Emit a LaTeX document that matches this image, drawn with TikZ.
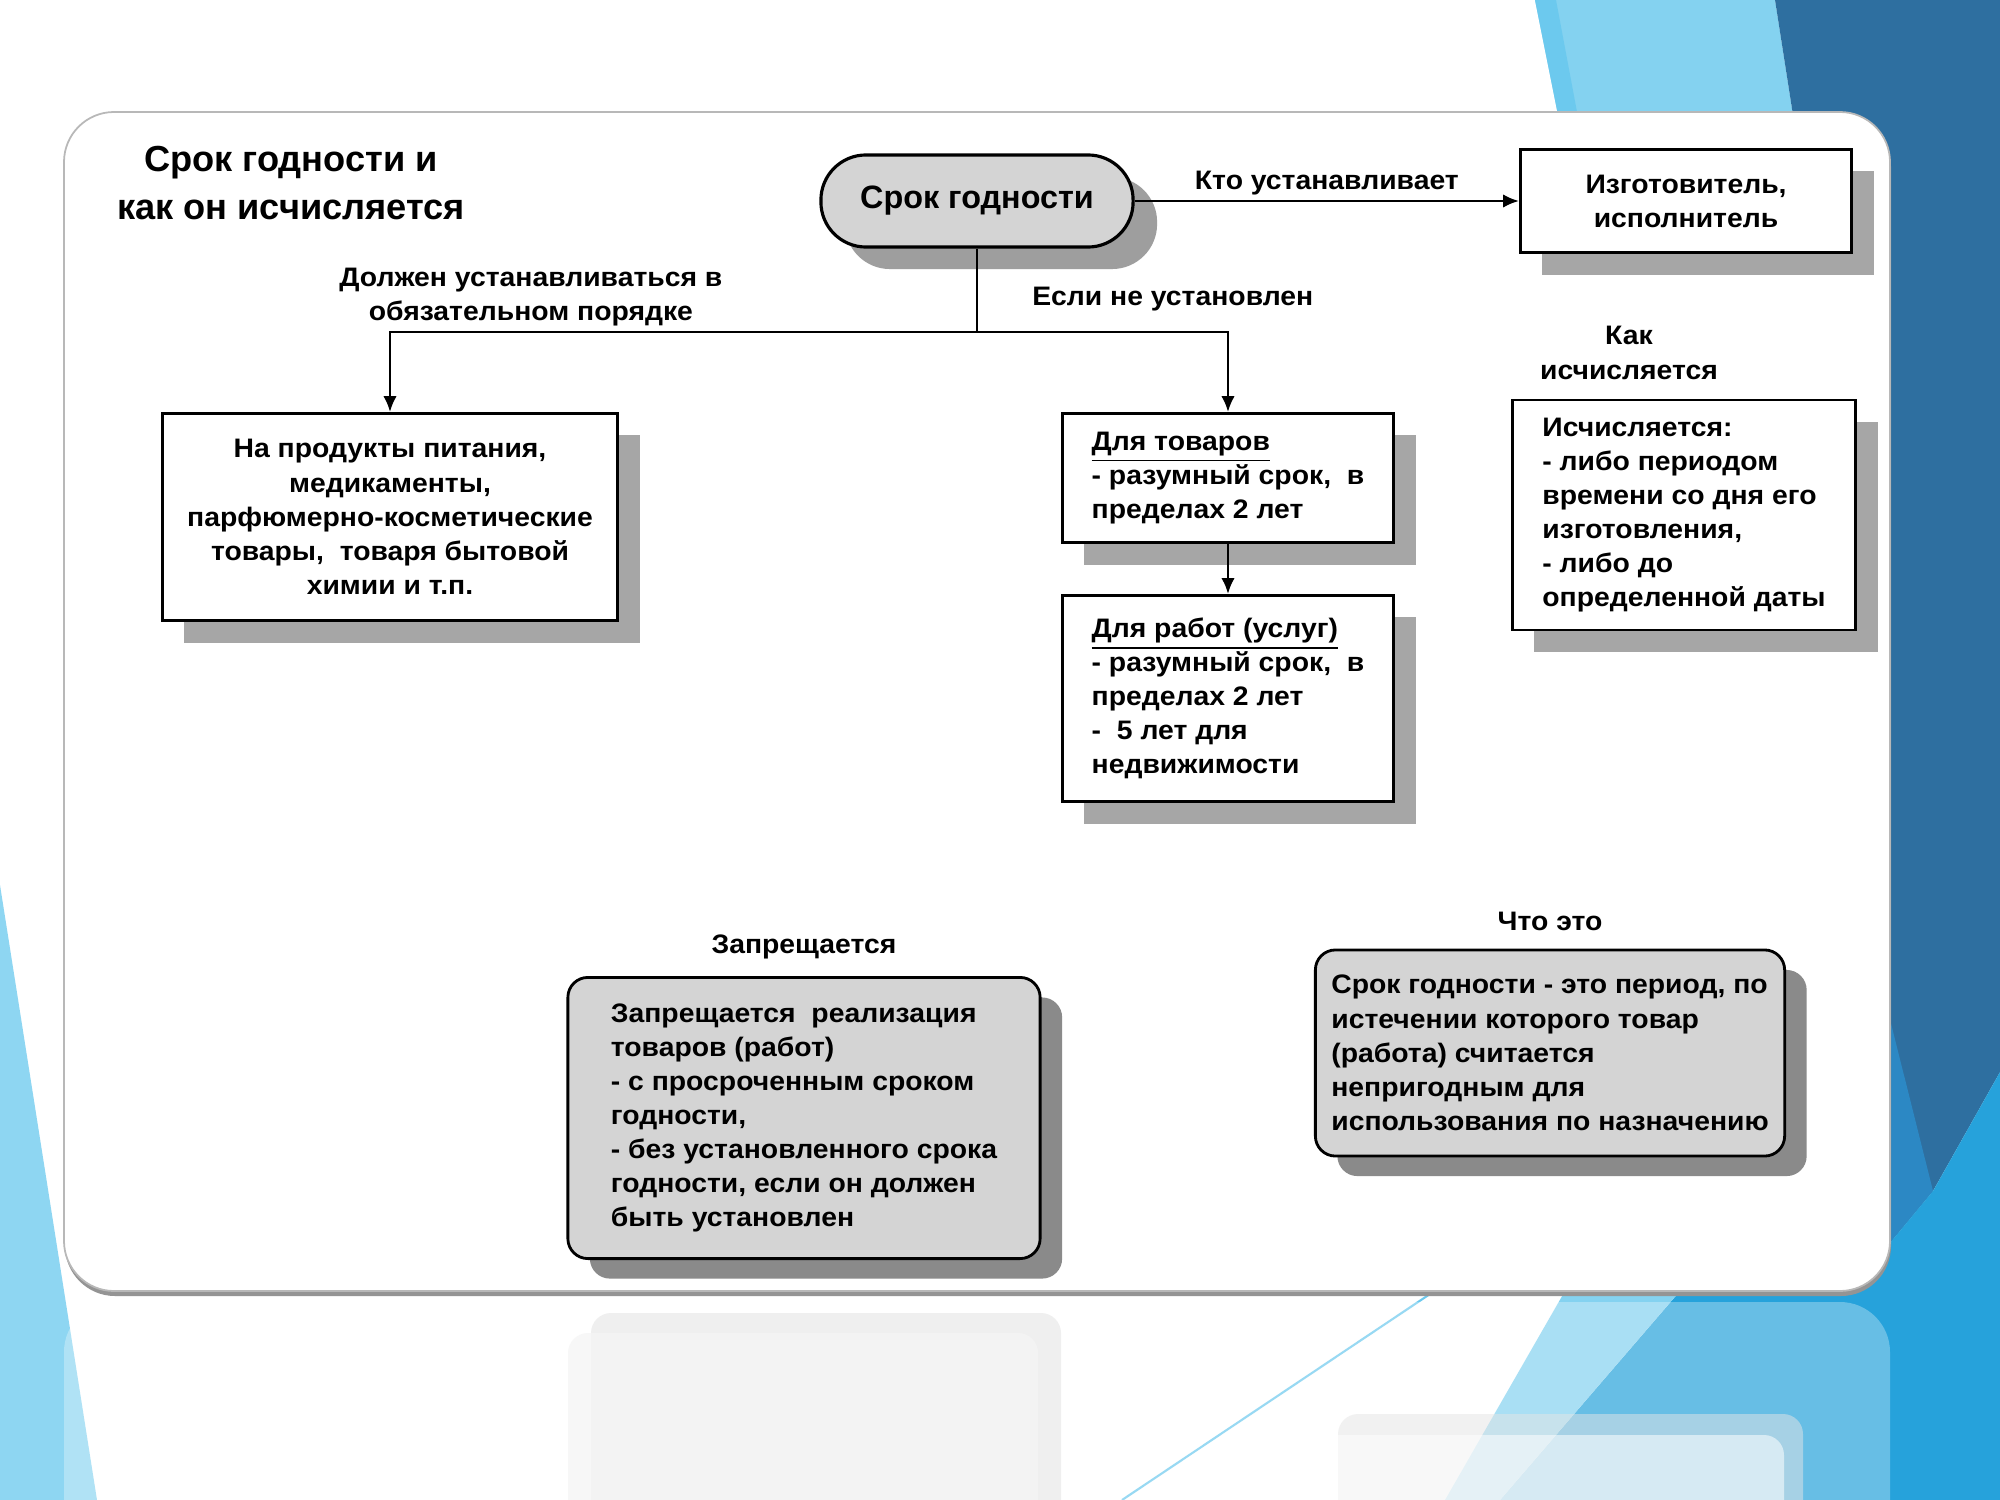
\documentclass[tikz,border=0pt]{standalone}
\usepackage{fontspec}
\setmainfont{Liberation Sans}
\newfontfamily\wideface{Liberation Sans}[FakeStretch=1.06]
\usetikzlibrary{arrows.meta,shadows,positioning}

\definecolor{skyblue}{HTML}{84D2F0}
\definecolor{skystripe}{HTML}{6CC9EE}
\definecolor{deepblue}{HTML}{2E6FA0}
\definecolor{midblue}{HTML}{2C88C4}
\definecolor{brightblue}{HTML}{26A2DB}
\definecolor{paleblue}{HTML}{8ED6F2}
\definecolor{boxgray}{HTML}{D4D4D4}

\newcommand{\boxfont}{\wideface\fontsize{7.6}{9.7}\selectfont\bfseries}
\newcommand{\titlefont}{\fontsize{10.3}{13.6}\selectfont\bfseries}
\newcommand{\ovalfont}{\fontsize{9.2}{11}\selectfont\bfseries}

\tikzset{
  whitebox/.style={draw,line width=0.8pt,fill=white,font=\boxfont,inner sep=0pt,
    drop shadow={shadow xshift=0.22cm,shadow yshift=-0.22cm,fill=black!35,opacity=1}},
  graybox/.style={draw,line width=0.8pt,fill=boxgray,rounded corners=0.2cm,font=\boxfont,inner sep=0pt,
    drop shadow={shadow xshift=0.22cm,shadow yshift=-0.2cm,fill=black!46,opacity=1}},
  oval/.style={draw,line width=0.9pt,fill=boxgray,rounded corners=0.45cm,font=\ovalfont,
    minimum width=3.12cm,minimum height=0.92cm,
    drop shadow={shadow xshift=0.24cm,shadow yshift=-0.22cm,fill=black!38,opacity=1}},
  caption/.style={font=\boxfont,align=center,inner sep=0pt},
}

\begin{document}
\begin{tikzpicture}[x=0.01cm,y=-0.01cm,->,>={Latex[length=4.5pt,width=3.8pt]},line width=0.7pt]
  \useasboundingbox (0,0) rectangle (2000,1500);
  % background of the slide
  \fill[white] (0,0) rectangle (2000,1500);
  \fill[skyblue] (1535,0) -- (1775,0) -- (1800,160) -- (1567,160) -- cycle;
  \fill[skystripe] (1535,0) -- (1556,0) -- (1586,160) -- (1567,160) -- cycle;
  \fill[deepblue] (1775,0) -- (2000,0) -- (2000,1072) -- (1933,1191) -- (1850,1291) -- (1800,160) -- cycle;
  \fill[midblue] (1850,860) -- (1933,1191) -- (1850,1291) -- cycle;
  \fill[brightblue] (2000,1072) -- (1933,1191) -- (1850,1291) -- (1680,1291) -- (1500,1500) -- (2000,1500) -- cycle;
  \fill[skyblue] (1565,1291) -- (1680,1291) -- (1500,1500) -- (1445,1500) -- cycle;
  \fill[paleblue] (0,885) -- (97,1500) -- (0,1500) -- cycle;
  \draw[-,skystripe,line width=0.6pt] (1122,1500) -- (1430,1294);

  % panel and its reflection
  \fill[black!42,rounded corners=0.5cm] (65,117) rectangle (1891,1296);
  \draw[-,fill=white,draw=black!28,line width=0.5pt,rounded corners=0.5cm] (64,112) rectangle (1890,1291);
  \fill[white,opacity=0.3,rounded corners=0.5cm] (64,1302) rectangle (1890,1560);
  \fill[black!10,opacity=0.6,rounded corners=0.2cm] (591,1313) rectangle (1061,1560);
  \fill[black!4,opacity=0.8,rounded corners=0.2cm] (568,1333) rectangle (1038,1560);
  \fill[black!10,opacity=0.5,rounded corners=0.2cm] (1338,1414) rectangle (1803,1560);
  \fill[white,opacity=0.55,rounded corners=0.2cm] (1312,1435) rectangle (1784,1560);

  % diagram
  \node[font=\titlefont,align=center] (title) at (291,183) {Срок годности и\\как он исчисляется};
  \node[oval] (srok) at (977,201) {Срок годности};
  \node[whitebox,minimum width=3.31cm,minimum height=1.03cm,align=center] (maker) at (1686,201) {Изготовитель,\\исполнитель};
  \node[whitebox,minimum width=4.55cm,minimum height=2.07cm,align=center] (food) at (390,517)
    {На продукты питания,\\медикаменты,\\парфюмерно-косметические\\товары,~~товаря бытовой\\химии и т.п.};
  \node[whitebox,minimum width=3.31cm,minimum height=1.29cm,align=left] (goods) at (1228,478)
    {\underline{Для товаров}\\- разумный срок,~~в\\пределах 2 лет};
  \node[whitebox,minimum width=3.31cm,minimum height=2.06cm,align=left,below=0.5cm of goods] (works)
    {\underline{Для работ (услуг)}\\- разумный срок,~~в\\пределах 2 лет\\-~~5 лет для\\недвижимости};
  \node[whitebox,minimum width=3.43cm,minimum height=2.30cm,align=left] (calc) at (1684,515)
    {Исчисляется:\\- либо периодом\\времени со дня его\\изготовления,\\- либо до\\определенной даты};
  \node[graybox,minimum width=4.69cm,minimum height=2.06cm,align=left] (what) at (1550,1053)
    {Срок годности - это период, по\\истечении которого товар\\(работа) считается\\непригодным для\\использования по назначению};
  \node[graybox,minimum width=4.72cm,minimum height=2.81cm,align=left] (ban) at (804,1118)
    {Запрещается~~реализация\\товаров (работ)\\- с просроченным сроком\\годности,\\- без установленного срока\\годности, если он должен\\быть установлен};
  \node[caption,above=0.18cm of calc,xshift=-0.55cm] (calccap) {Как\\исчисляется};
  \node[caption,above=0.17cm of what] (whatcap) {Что это};
  \node[caption,above=0.16cm of ban] (bancap) {Запрещается};

  \coordinate (fork) at (977,332);
  \draw[-] (srok) -- (fork);
  \draw (fork) -| node[caption,pos=0.38,above=0.05cm] {Должен устанавливаться в\\обязательном порядке} (food);
  \draw (fork) -| node[caption,pos=0.39,above=0.2cm] {Если не установлен} (goods);
  \draw (goods) -- (works);
  \draw (srok) -- node[caption,above=0.05cm] {Кто устанавливает} (maker);
\end{tikzpicture}
\end{document}
